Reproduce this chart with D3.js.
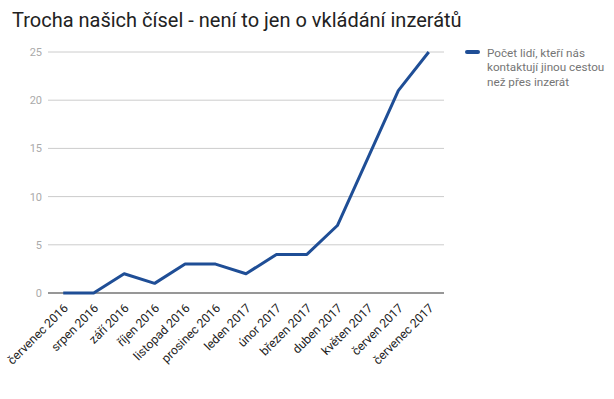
<!DOCTYPE html>
<html><head><meta charset="utf-8">
<script src="https://cdn.jsdelivr.net/npm/d3@7"></script>
<style>body{margin:0;background:#fff;}svg{display:block;font-family:Roboto,"Noto Sans",sans-serif;}</style>
</head><body>
<script>
const title = "Trocha našich čísel - není to jen o vkládání inzerátů";
const categories = ["červenec 2016","srpen 2016","září 2016","říjen 2016","listopad 2016","prosinec 2016","leden 2017","únor 2017","březen 2017","duben 2017","květen 2017","červen 2017","červenec 2017"];
const values = [0,0,2,1,3,3,2,4,4,7,14,21,25];
const yTicks = [0,5,10,15,20,25];
const legendLines = ["Počet lidí, kteří nás","kontaktují jinou cestou","než přes inzerát"];

const W = 614, H = 399;
const svg = d3.select("body").append("svg").attr("width", W).attr("height", H);
const m = {left:48, right:170, top:52, bottom:106};
const x = d3.scalePoint().domain(categories).range([m.left, W - m.right]).padding(0.5);
const y = d3.scaleLinear().domain([0,25]).range([H - m.bottom, m.top]);

svg.append("text").attr("x", 12).attr("y", 27).attr("font-size", 20).attr("fill", "#222").text(title);

const g = svg.append("g");
g.selectAll(".grid").data(yTicks).join("line")
  .attr("x1", m.left).attr("x2", W - m.right)
  .attr("y1", d => y(d)).attr("y2", d => y(d))
  .attr("stroke", d => d === 0 ? "#757575" : "#ccc").attr("stroke-width", d => d === 0 ? 1.5 : 1);
g.selectAll(".yl").data(yTicks).join("text")
  .attr("x", m.left - 6).attr("y", d => y(d) + 4).attr("text-anchor", "end")
  .attr("font-size", 11).attr("fill", "#aaa").text(d => d);

const xa = svg.append("g").attr("transform", `translate(0,${H - m.bottom})`)
  .call(d3.axisBottom(x).tickSize(0).tickPadding(0));
xa.select(".domain").remove();
xa.selectAll("text").attr("font-size", 12.2).attr("fill", "#222")
  .attr("font-family", "Roboto, sans-serif")
  .attr("text-anchor", "end").attr("dy", null)
  .attr("transform", "translate(5,16) rotate(-45)");

const line = d3.line().x((d,i) => x(categories[i])).y(d => y(d));
svg.append("path").datum(values).attr("d", line).attr("fill", "none")
  .attr("stroke", "#1f4e96").attr("stroke-width", 3).attr("stroke-linejoin", "round");

const lg = svg.append("g");
lg.append("line").attr("x1", 467).attr("x2", 478).attr("y1", 52).attr("y2", 52)
  .attr("stroke", "#1f4e96").attr("stroke-width", 4).attr("stroke-linecap", "round");
lg.selectAll("text").data(legendLines).join("text")
  .attr("x", 487).attr("y", (d,i) => 56.5 + i*14.7).attr("font-size", 11.7).attr("fill", "#757575").text(d => d);
</script>
</body></html>
